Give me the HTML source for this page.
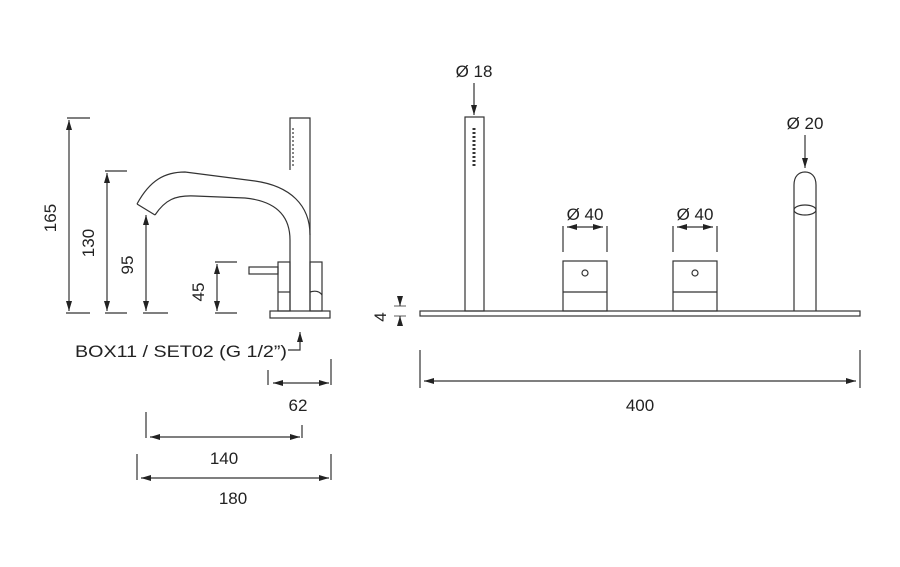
<!DOCTYPE html>
<html><head><style>
html,body{margin:0;padding:0;background:#fff;}
svg{display:block;}
text{font-family:"Liberation Sans",sans-serif;font-size:17px;fill:#222;}
</style></head><body>
<svg width="900" height="567" viewBox="0 0 900 567" xmlns="http://www.w3.org/2000/svg">
<defs>
<marker id="a" viewBox="0 0 10 6" refX="10" refY="3" markerWidth="10" markerHeight="6" orient="auto-start-reverse" markerUnits="userSpaceOnUse"><path d="M0,0 L10,3 L0,6 z" fill="#222"/></marker>
</defs>
<g stroke="#333" stroke-width="1.2" fill="none">
<line x1="67" y1="118" x2="90" y2="118"/><line x1="66" y1="313" x2="90" y2="313"/>
<line x1="69" y1="120" x2="69" y2="311" marker-start="url(#a)" marker-end="url(#a)"/>
<line x1="105" y1="171" x2="127" y2="171"/><line x1="105" y1="313" x2="127" y2="313"/>
<line x1="107" y1="173" x2="107" y2="311" marker-start="url(#a)" marker-end="url(#a)"/>
<line x1="143" y1="313" x2="168" y2="313"/>
<line x1="146" y1="215" x2="146" y2="311" marker-start="url(#a)" marker-end="url(#a)"/>
<line x1="215" y1="262" x2="237" y2="262"/><line x1="215" y1="313" x2="237" y2="313"/>
<line x1="217" y1="264" x2="217" y2="311" marker-start="url(#a)" marker-end="url(#a)"/>
<rect x="270" y="311" width="60" height="7"/>
<path d="M290,170 L290,118 L310,118 L310,311"/>
<path d="M137,204 C150,180 165,172 185,172 L255,181 C290,186 310,205 310,235"/>
<path d="M155,215 C165,200 175,195 195,196 L245,198 C275,201 290,215 290,240 L290,311"/>
<line x1="137" y1="204" x2="155" y2="215"/>
<rect x="278" y="262" width="12" height="49"/><rect x="310" y="262" width="12" height="49"/>
<line x1="278" y1="292" x2="290" y2="292"/><path d="M310,292 C316,290 320,292 322,295"/>
<rect x="249" y="267" width="29" height="7"/>
<line x1="293" y1="128" x2="293" y2="168" stroke-dasharray="2 2"/>
<path d="M288,350 L300,350 L300,332" marker-end="url(#a)"/>
<line x1="268" y1="370" x2="268" y2="385"/><line x1="331" y1="359" x2="331" y2="385"/>
<line x1="273" y1="383" x2="329" y2="383" marker-start="url(#a)" marker-end="url(#a)"/>
<line x1="146" y1="412" x2="146" y2="438"/><line x1="302" y1="425" x2="302" y2="438"/>
<line x1="150" y1="437" x2="300" y2="437" marker-start="url(#a)" marker-end="url(#a)"/>
<line x1="137" y1="454" x2="137" y2="480"/><line x1="331" y1="454" x2="331" y2="480"/>
<line x1="141" y1="478" x2="329" y2="478" marker-start="url(#a)" marker-end="url(#a)"/>
<rect x="420" y="311" width="440" height="5"/>
<rect x="465" y="117" width="19" height="194"/>
<line x1="474" y1="128" x2="474" y2="168" stroke-dasharray="2 2" stroke-width="3"/>
<line x1="474" y1="83" x2="474" y2="115" marker-end="url(#a)"/>
<rect x="563" y="261" width="44" height="50"/><line x1="563" y1="292" x2="607" y2="292"/>
<circle cx="585" cy="273" r="3"/>
<rect x="673" y="261" width="44" height="50"/><line x1="673" y1="292" x2="717" y2="292"/>
<circle cx="695" cy="273" r="3"/>
<line x1="563" y1="226" x2="563" y2="252"/><line x1="607" y1="226" x2="607" y2="252"/>
<line x1="567" y1="227" x2="603" y2="227" marker-start="url(#a)" marker-end="url(#a)"/>
<line x1="673" y1="226" x2="673" y2="252"/><line x1="717" y1="226" x2="717" y2="252"/>
<line x1="677" y1="227" x2="713" y2="227" marker-start="url(#a)" marker-end="url(#a)"/>
<path d="M794,311 L794,185 C794,176 799,172 805,172 C811,172 816,176 816,185 L816,311"/>
<ellipse cx="805" cy="210" rx="11" ry="5"/>
<line x1="805" y1="135" x2="805" y2="168" marker-end="url(#a)"/>
<line x1="394" y1="306" x2="406" y2="306" stroke-width="0.8"/><line x1="394" y1="316" x2="406" y2="316" stroke-width="0.8"/>
<line x1="400" y1="296" x2="400" y2="306" marker-end="url(#a)"/>
<line x1="400" y1="326" x2="400" y2="316" marker-end="url(#a)"/>
<line x1="420" y1="350" x2="420" y2="388"/><line x1="860" y1="350" x2="860" y2="388"/>
<line x1="424" y1="381" x2="856" y2="381" marker-start="url(#a)" marker-end="url(#a)"/>
</g>
<text transform="translate(56,218) rotate(-90)" text-anchor="middle">165</text>
<text transform="translate(94,243) rotate(-90)" text-anchor="middle">130</text>
<text transform="translate(133,265) rotate(-90)" text-anchor="middle">95</text>
<text transform="translate(204,292) rotate(-90)" text-anchor="middle">45</text>
<text transform="translate(386,317) rotate(-90)" text-anchor="middle">4</text>
<text x="75" y="357" textLength="212" lengthAdjust="spacingAndGlyphs">BOX11 / SET02 (G 1/2”)</text>
<text x="298" y="411" text-anchor="middle">62</text>
<text x="224" y="464" text-anchor="middle">140</text>
<text x="233" y="504" text-anchor="middle">180</text>
<text x="640" y="411" text-anchor="middle">400</text>
<text x="474" y="77" text-anchor="middle">Ø 18</text>
<text x="585" y="220" text-anchor="middle">Ø 40</text>
<text x="695" y="220" text-anchor="middle">Ø 40</text>
<text x="805" y="129" text-anchor="middle">Ø 20</text>
</svg>
</body></html>
